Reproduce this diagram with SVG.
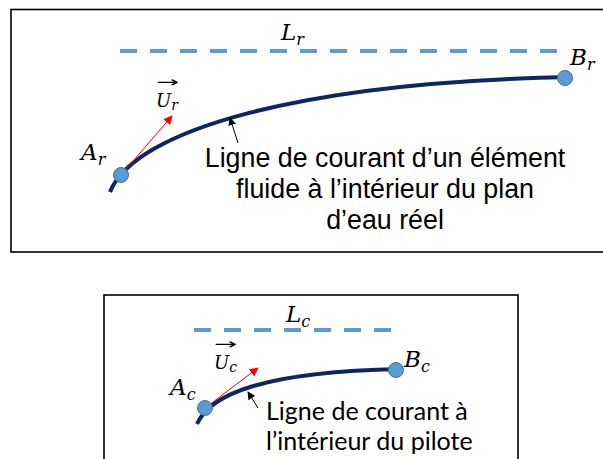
<svg xmlns="http://www.w3.org/2000/svg" width="603" height="459" viewBox="0 0 603 459">
<defs>
<style>
.frame{fill:#fff;stroke:#000;stroke-width:1.6}
.dash{stroke:#5b9bd5;stroke-width:4;stroke-dasharray:17 13;fill:none}
.stream{fill:none;stroke:#0b2565;stroke-width:4;stroke-linecap:butt}
.pt{fill:#5b9bd5;stroke:#41719c;stroke-width:1}
.vec{stroke:#ff0000;stroke-width:1;fill:none}
.ptr{stroke:#000;stroke-width:1;fill:none}
.math{font-family:"DejaVu Serif","Liberation Serif",serif;font-style:italic;font-size:23px;fill:#000}
.sub{font-size:16px}
.vsym{font-size:18px}
.vsub{font-size:14px}
.acc{font-family:"DejaVu Sans",sans-serif;font-style:normal;font-size:15px;fill:#000}
.lbl1{font-family:"Liberation Sans",Arial,sans-serif;font-size:26.8px;fill:#000;text-anchor:middle}
.lbl2{font-family:Lato,"Liberation Sans",sans-serif;font-size:25px;fill:#000}
</style>
<marker id="redhead" viewBox="0 0 10 10" refX="9" refY="5" markerWidth="9" markerHeight="9" markerUnits="userSpaceOnUse" orient="auto">
<path d="M0,0 L10,5 L0,10 Z" fill="#ff0000"/>
</marker>
<marker id="blkhead" viewBox="0 0 10 10" refX="9" refY="5" markerWidth="8" markerHeight="8" markerUnits="userSpaceOnUse" orient="auto">
<path d="M0,0 L10,5 L0,10 Z" fill="#000"/>
</marker>
</defs>

<g id="frame-real">
<rect class="frame" x="11" y="9.5" width="600" height="242.5"/>
</g>
<g id="frame-pilot">
<rect class="frame" x="104" y="295" width="414" height="180"/>
</g>

<g id="connectors">
<path class="stream" d="M110,192 C135,130 300,82 572,77"/>
<path class="stream" d="M197,424 C210,395 260,372 400,369"/>
<line class="vec" x1="121" y1="175" x2="172" y2="116" marker-end="url(#redhead)"/>
<line class="vec" x1="205" y1="408" x2="258" y2="368" marker-end="url(#redhead)"/>
<line class="ptr" x1="238" y1="143" x2="230" y2="118" marker-end="url(#blkhead)"/>
<line class="ptr" x1="258" y1="408" x2="248" y2="392" marker-end="url(#blkhead)"/>
</g>

<g id="length-real">
<line class="dash" x1="120" y1="51" x2="560" y2="51"/>
<text class="math" x="281" y="40">L<tspan class="sub" dy="5">r</tspan></text>
</g>
<g id="length-pilot">
<line class="dash" x1="194" y1="330" x2="393" y2="330"/>
<text class="math" x="286" y="322">L<tspan class="sub" dy="5">c</tspan></text>
</g>

<g id="point-Ar">
<circle class="pt" cx="121" cy="175" r="7.5"/>
<text class="math" x="81" y="160">A<tspan class="sub" dy="5">r</tspan></text>
</g>
<g id="point-Br">
<circle class="pt" cx="565" cy="78" r="7.5"/>
<text class="math" x="570" y="65">B<tspan class="sub" dy="5">r</tspan></text>
</g>
<g id="point-Ac">
<circle class="pt" cx="205" cy="408" r="7.5"/>
<text class="math" x="170" y="395">A<tspan class="sub" dy="5">c</tspan></text>
</g>
<g id="point-Bc">
<circle class="pt" cx="396" cy="370" r="7.5"/>
<text class="math" x="404" y="367">B<tspan class="sub" dy="5">c</tspan></text>
</g>

<g id="vector-Ur">
<text class="acc" x="156" y="87" textLength="23" lengthAdjust="spacingAndGlyphs">→</text>
<text class="math vsym" x="156" y="107">U<tspan class="vsub" dy="3">r</tspan></text>
</g>
<g id="vector-Uc">
<text class="acc" x="214" y="349" textLength="23" lengthAdjust="spacingAndGlyphs">→</text>
<text class="math vsym" x="214" y="369">U<tspan class="vsub" dy="3">c</tspan></text>
</g>

<g id="label-real">
<text class="lbl1" x="385" y="167">Ligne de courant d’un élément</text>
<text class="lbl1" x="385" y="198">fluide à l’intérieur du plan</text>
<text class="lbl1" x="385" y="229">d’eau réel</text>
</g>
<g id="label-pilot">
<text class="lbl2" x="266" y="420">Ligne de courant à</text>
<text class="lbl2" x="266" y="450">l’intérieur du pilote</text>
</g>
</svg>
